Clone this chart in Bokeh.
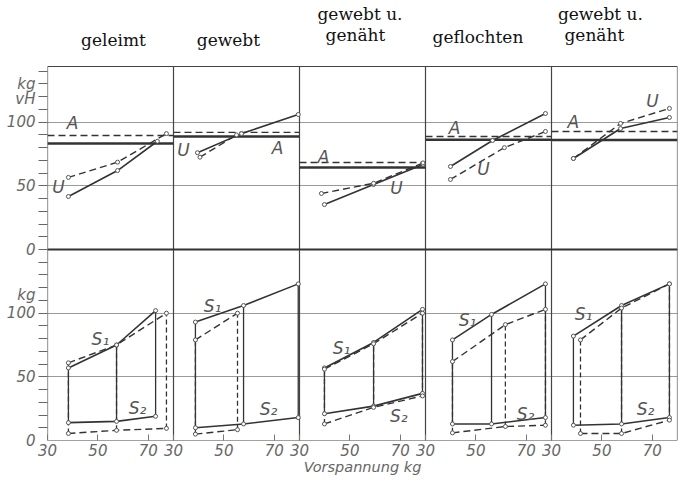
from bokeh.plotting import figure
from bokeh.models import FixedTicker
from bokeh.embed import file_html
from bokeh.resources import INLINE
from bokeh.core.properties import value

# ---------------- data ----------------
title_line1 = ["geleimt", "gewebt", "gewebt u.", "geflochten", "gewebt u."]
title_line2 = ["", "", "genäht", "", "genäht"]

x_tick_values = [30, 50, 70]
y_tick_values = [0, 50, 100]

# upper half: A (horizontal levels) and U curves
A_solid = [83.3, 88.8, 64.4, 86.2, 86.0]
A_dashed = [89.5, 92.0, 68.3, 88.8, 92.7]

U_solid_v = [[38.3, 57.8, 73.6], [39.5, 57.0, 79.5], [39.9, 59.4, 79.0],
             [39.9, 56.6, 77.6], [38.7, 57.4, 76.8]]
U_solid = [[41.6, 62.0, 85.0], [76.0, 91.0, 106.0], [35.3, 51.0, 66.8],
           [65.2, 85.6, 106.8], [71.5, 95.0, 103.7]]
U_dashed_v = [[38.3, 57.8, 77.2], [40.5, 55.0], [38.7, 59.4, 79.0],
              [39.9, 61.3, 77.6], [38.7, 57.4, 76.8]]
U_dashed = [[56.6, 68.6, 91.0], [72.5, 90.0], [44.0, 52.0, 68.0],
            [55.0, 80.0, 92.7], [71.5, 99.0, 110.8]]

# lower half: S1 and S2 forces
S_solid_v = [[38.3, 57.4, 72.9], [38.7, 57.8, 79.5], [39.9, 59.4, 78.8],
             [40.7, 56.2, 77.6], [38.7, 57.8, 76.8]]
S1_solid = [[57.0, 75.0, 102.0], [93.0, 106.0, 123.0], [57.0, 77.0, 103.0],
            [79.0, 99.0, 123.0], [82.0, 106.0, 123.0]]
S2_solid = [[14.0, 15.0, 19.0], [10.0, 13.0, 18.0], [21.0, 27.0, 37.0],
            [13.0, 13.0, 18.0], [12.0, 13.0, 18.0]]
S_dashed_v = [[38.3, 57.4, 77.2], [38.7, 55.4], [39.9, 59.4, 78.8],
              [40.7, 61.7, 77.6], [41.5, 57.8, 76.8]]
S1_dashed = [[61.0, 75.0, 100.0], [79.0, 100.0], [56.0, 76.0, 100.0],
             [62.0, 91.0, 103.0], [79.0, 104.0, 123.0]]
S2_dashed = [[5.5, 8.0, 9.5], [5.0, 8.5], [13.0, 26.0, 35.0],
             [6.0, 11.0, 12.0], [5.5, 5.5, 16.0]]

# ---------------- layout constants ----------------
V0, SPAN = 30.0, 50.0          # each panel spans 30 .. 80 kg
LOW = 150.0                    # lower half zero lies 150 units below upper zero
UPPER_TOP = 143.7
N = len(title_line1)

def px(i, vs):
    return [i * SPAN + (v - V0) for v in vs]

def low(vals):
    return [v - LOW for v in vals]

# label positions (panel-local: kg, value)
A_lab = [(39.9, 99), (71.3, 80), (39.5, 72.3), (41.5, 95.8), (38.7, 99.8)]
U_lab = [(34.4, 48.7), (34.0, 77.8), (68.5, 48.0), (53.0, 63.6), (70.1, 117.0)]
S1_lab = [(51.0, 80.1), (45.5, 106.0), (46.7, 73.0), (46.7, 95.0), (42.7, 99.7)]
S2_lab = [(65.7, 25.9), (67.7, 25.1), (69.4, 19.6), (69.7, 21.2), (67.3, 25.1)]
# title positions (offset along the whole strip, height)
title1_pos = [(26.2, 164.6), (71.8, 164.6), (124.0, 184.6), (170.8, 167.0), (219.4, 184.6)]
title2_pos = [None, None, (122.2, 168.6), None, (217.0, 168.6)]

INK = "#333333"
GRID = "#9a9a9a"
LAB = "#555555"
FONT_L = "DejaVu Sans"
FONT_T = "DejaVu Serif"

p = figure(width=681, height=482, x_range=(0, N * SPAN), y_range=(-LOW, 195.55),
           min_border_left=47, min_border_right=4, min_border_top=0, min_border_bottom=42,
           toolbar_location=None, output_backend="svg", outline_line_color=None,
           background_fill_color="white", border_fill_color="white")

# grid: horizontal lines at 50 and 100 in both halves
p.xgrid.visible = False
p.ygrid.ticker = FixedTicker(ticks=[50, 100, 50 - LOW, 100 - LOW])
p.ygrid.grid_line_color = GRID
p.ygrid.grid_line_width = 1

# frame / panel borders
xb = [i * SPAN for i in range(N + 1)]
p.segment(x0=xb, y0=[-LOW] * len(xb), x1=xb, y1=[UPPER_TOP] * len(xb),
          line_color="#444444", line_width=1.2)
p.segment(x0=[0, 0], y0=[UPPER_TOP, -LOW], x1=[N * SPAN] * 2, y1=[UPPER_TOP, -LOW],
          line_color="#444444", line_width=1.2)
p.segment(x0=[0], y0=[0], x1=[N * SPAN], y1=[0], line_color="#333333", line_width=2)

dash = "7 4"
for i in range(N):
    x0, x1 = i * SPAN, (i + 1) * SPAN
    # A levels
    p.line([x0, x1], [A_solid[i]] * 2, line_color=INK, line_width=2.6)
    p.line([x0, x1], [A_dashed[i]] * 2, line_color=INK, line_width=1.4, line_dash=dash)
    # U curves
    p.line(px(i, U_solid_v[i]), U_solid[i], line_color=INK, line_width=1.6)
    p.line(px(i, U_dashed_v[i]), U_dashed[i], line_color=INK, line_width=1.4, line_dash=dash)
    p.scatter(px(i, U_solid_v[i]), U_solid[i], size=4, fill_color="white", line_color="#555555")
    p.scatter(px(i, U_dashed_v[i]), U_dashed[i], size=4, fill_color="white", line_color="#555555")
    # S curves
    xs = px(i, S_solid_v[i])
    xd = px(i, S_dashed_v[i])
    p.segment(x0=xs, y0=low(S2_solid[i]), x1=xs, y1=low(S1_solid[i]), line_color=INK, line_width=1.3)
    p.segment(x0=xd, y0=low(S2_dashed[i]), x1=xd, y1=low(S1_dashed[i]), line_color=INK,
              line_width=1.3, line_dash="5 3")
    p.line(xs, low(S1_solid[i]), line_color=INK, line_width=1.6)
    p.line(xs, low(S2_solid[i]), line_color=INK, line_width=1.6)
    p.line(xd, low(S1_dashed[i]), line_color=INK, line_width=1.4, line_dash=dash)
    p.line(xd, low(S2_dashed[i]), line_color=INK, line_width=1.4, line_dash=dash)
    for xx, yy in ((xs, S1_solid[i]), (xs, S2_solid[i]), (xd, S1_dashed[i]), (xd, S2_dashed[i])):
        p.scatter(xx, low(yy), size=4, fill_color="white", line_color="#555555")

# curve labels
lab_x, lab_y, lab_t = [], [], []
for i in range(N):
    for (v, u), t in ((A_lab[i], "A"), (U_lab[i], "U")):
        lab_x.append(i * SPAN + v - V0); lab_y.append(u); lab_t.append(t)
    for (v, s), t in ((S1_lab[i], "S\u2081"), (S2_lab[i], "S\u2082")):
        lab_x.append(i * SPAN + v - V0); lab_y.append(s - LOW); lab_t.append(t)
p.text(x=lab_x, y=lab_y, text=lab_t, text_font=value(FONT_L), text_font_style="italic",
       text_font_size="17px", text_color=LAB, text_align="center", text_baseline="middle")

# titles
tx, ty, tt = [], [], []
for i in range(N):
    tx.append(title1_pos[i][0]); ty.append(title1_pos[i][1]); tt.append(title_line1[i])
    if title_line2[i]:
        tx.append(title2_pos[i][0]); ty.append(title2_pos[i][1]); tt.append(title_line2[i])
p.text(x=tx, y=ty, text=tt, text_font=value(FONT_T), text_font_size="17px",
       text_color="#111111", text_align="center", text_baseline="middle")

# x axis
xt = []
xo = {}
for i in range(N):
    for v in x_tick_values:
        xx = i * SPAN + v - V0
        xt.append(xx)
        xo[xx] = str(v)
p.xaxis.ticker = FixedTicker(ticks=xt)
p.xaxis.major_label_overrides = xo
p.xaxis.axis_line_color = None
p.xaxis.major_tick_in = 6
p.xaxis.major_tick_out = 0
p.xaxis.major_tick_line_color = "#777777"
p.xaxis.minor_tick_line_color = None
p.xaxis.major_label_standoff = 3
p.xaxis.major_label_text_font = FONT_L
p.xaxis.major_label_text_font_style = "italic"
p.xaxis.major_label_text_font_size = "15px"
p.xaxis.major_label_text_color = "#666666"
p.xaxis.axis_label = "Vorspannung kg"
p.xaxis.axis_label_text_font = FONT_L
p.xaxis.axis_label_text_font_style = "italic"
p.xaxis.axis_label_text_font_size = "14.5px"
p.xaxis.axis_label_text_color = "#666666"
p.xaxis.axis_label_standoff = 0

# y axis
yt = []
yo = {}
for v in y_tick_values:
    yt.append(v); yo[v] = str(v)
    yt.append(v - LOW); yo[v - LOW] = str(v)
yt += [118, 130, 114 - LOW]
yo[118] = "vH"; yo[130] = "kg"; yo[114 - LOW] = "kg"
minor = [m for m in range(-140, 141, 10)]
p.yaxis.ticker = FixedTicker(ticks=yt, minor_ticks=minor)
p.yaxis.major_label_overrides = yo
p.yaxis.axis_line_color = None
p.yaxis.major_tick_line_color = None
p.yaxis.major_tick_out = 9
p.yaxis.major_tick_in = 0
p.yaxis.minor_tick_out = 9
p.yaxis.minor_tick_in = 0
p.yaxis.minor_tick_line_color = "#666666"
p.yaxis.major_label_standoff = 3
p.yaxis.major_label_text_font = FONT_L
p.yaxis.major_label_text_font_style = "italic"
p.yaxis.major_label_text_font_size = "15px"
p.yaxis.major_label_text_color = "#666666"

open("out.html", "w").write(file_html(p, INLINE))
